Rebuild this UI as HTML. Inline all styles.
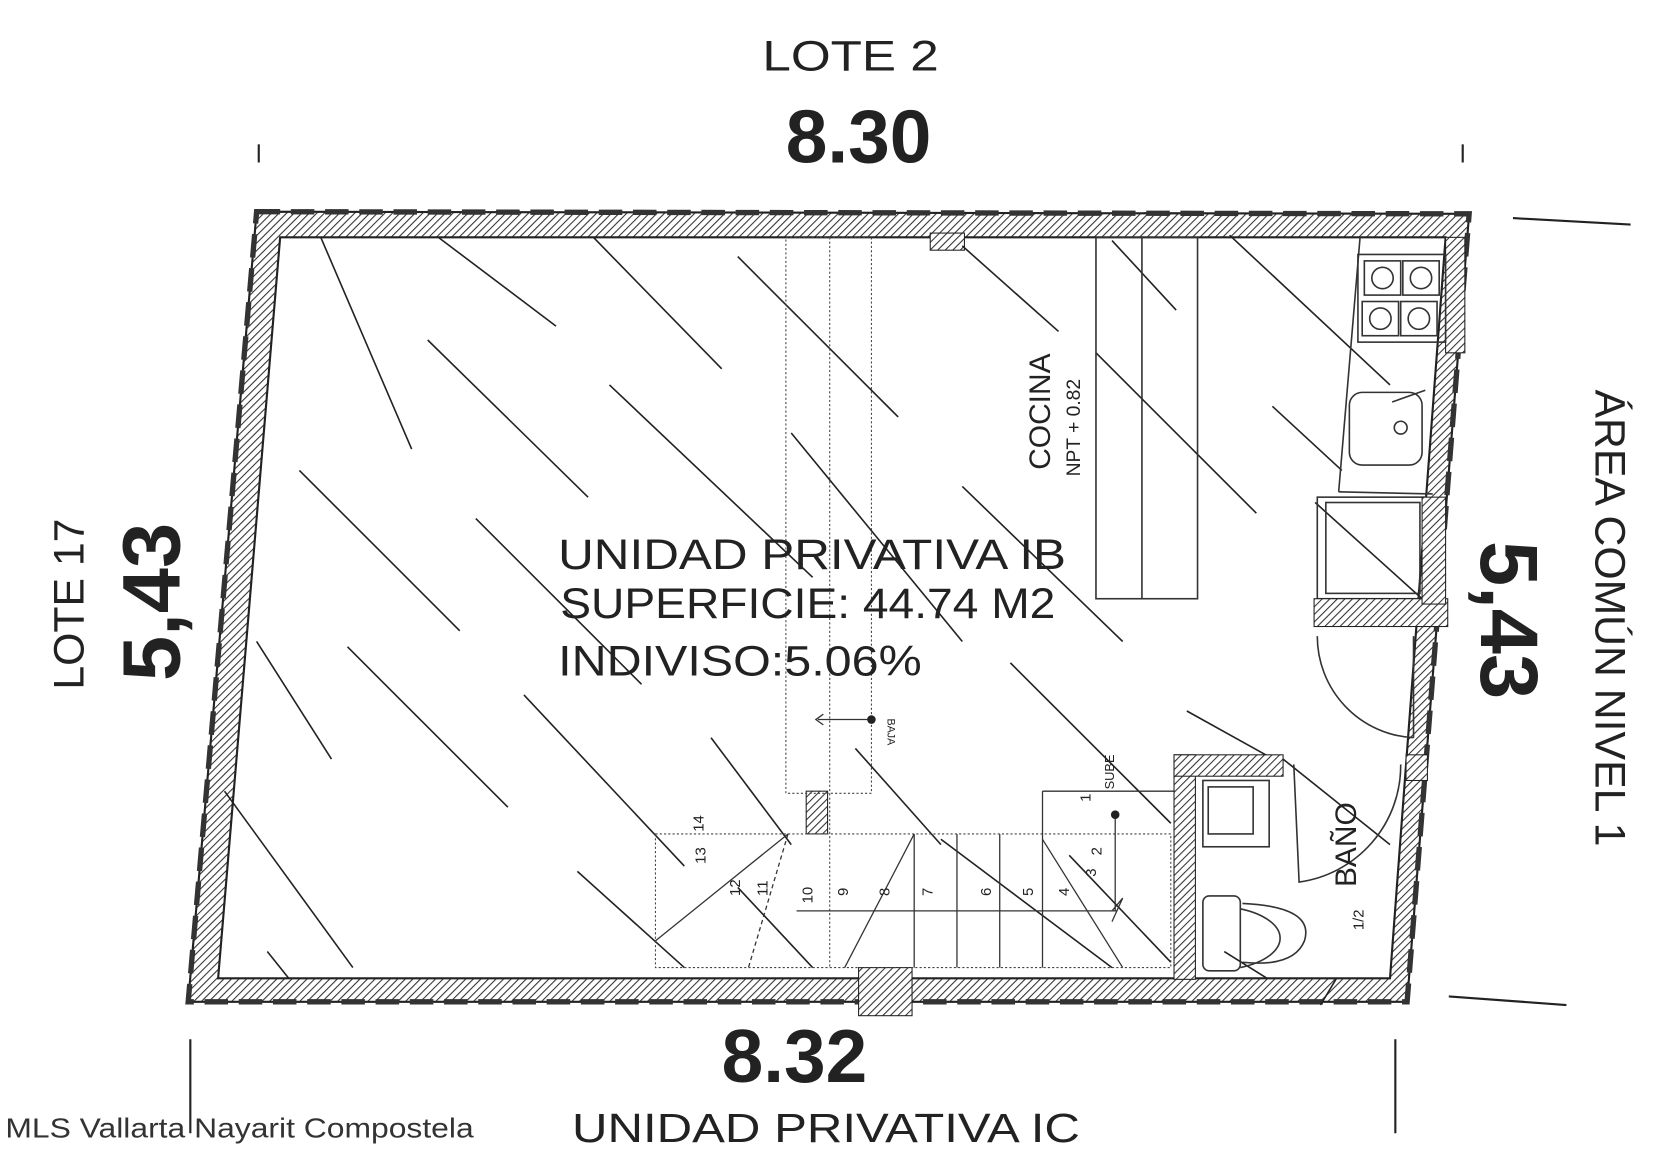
<!DOCTYPE html>
<html><head><meta charset="utf-8"><style>html,body{margin:0;padding:0;background:#fff}svg{display:block}</style></head>
<body>
<svg width="1668" height="1175" viewBox="0 0 1560 1099" preserveAspectRatio="none" xmlns="http://www.w3.org/2000/svg" font-family="Liberation Sans, sans-serif">
<defs>
<pattern id="h" width="5" height="5" patternUnits="userSpaceOnUse" patternTransform="rotate(45)">
<rect width="5" height="5" fill="#fff"/><line x1="0" y1="0" x2="0" y2="5" stroke="#333" stroke-width="2"/></pattern>
</defs>
<path d="M240,198 L1374,200 L1316,937 L176,937 Z M262,222 L204,915 L1300,915 L1352,222 Z" fill="url(#h)" fill-rule="evenodd" stroke="#222" stroke-width="2"/>
<path d="M240,198 L1374,200 L1316,937 L176,937 Z" fill="none" stroke="#333" stroke-width="5" stroke-dasharray="22,10"/>
<rect x="870" y="218" width="32" height="16" fill="url(#h)" stroke="#222"/>
<rect x="803" y="905" width="50" height="45" fill="url(#h)" stroke="#222"/>
<rect x="1352" y="222" width="18" height="108" fill="url(#h)" stroke="#222"/>
<rect x="754" y="740" width="20" height="40" fill="url(#h)" stroke="#222"/>
<g stroke="#222" stroke-width="1.5">
<line x1="300" y1="222" x2="385" y2="420"/><line x1="400" y1="318" x2="550" y2="465"/>
<line x1="410" y1="222" x2="520" y2="305"/><line x1="555" y1="222" x2="675" y2="345"/>
<line x1="690" y1="240" x2="840" y2="390"/><line x1="570" y1="360" x2="760" y2="540"/>
<line x1="740" y1="405" x2="900" y2="600"/><line x1="280" y1="440" x2="430" y2="590"/>
<line x1="445" y1="485" x2="600" y2="640"/><line x1="240" y1="600" x2="310" y2="710"/>
<line x1="325" y1="605" x2="475" y2="755"/><line x1="490" y1="650" x2="640" y2="810"/>
<line x1="665" y1="690" x2="740" y2="790"/><line x1="900" y1="455" x2="1050" y2="600"/>
<line x1="945" y1="620" x2="1095" y2="770"/><line x1="1110" y1="665" x2="1200" y2="715"/>
<line x1="1025" y1="330" x2="1175" y2="480"/><line x1="1190" y1="380" x2="1255" y2="440"/>
<line x1="1150" y1="220" x2="1300" y2="360"/><line x1="210" y1="740" x2="330" y2="905"/>
<line x1="540" y1="815" x2="640" y2="905"/><line x1="900" y1="230" x2="990" y2="310"/>
<line x1="1040" y1="225" x2="1100" y2="290"/><line x1="1230" y1="470" x2="1330" y2="560"/>
<line x1="690" y1="830" x2="760" y2="905"/><line x1="250" y1="890" x2="270" y2="915"/>
<line x1="800" y1="700" x2="880" y2="790"/><line x1="880" y1="785" x2="1040" y2="905"/>
<line x1="1000" y1="800" x2="1095" y2="900"/><line x1="1235" y1="940" x2="1250" y2="915"/>
<line x1="1145" y1="890" x2="1185" y2="915"/><line x1="1200" y1="710" x2="1300" y2="790"/>
</g>
<g stroke="#444" stroke-width="1" fill="none" stroke-dasharray="2,2">
<rect x="735" y="222" width="80" height="520"/>
<rect x="613" y="780" width="482" height="125"/>
<line x1="776" y1="222" x2="776" y2="905"/>
</g>
<g stroke="#333" stroke-width="1.2" fill="none">
<line x1="855" y1="780" x2="855" y2="905"/><line x1="895" y1="780" x2="895" y2="905"/>
<line x1="935" y1="780" x2="935" y2="905"/><line x1="975" y1="740" x2="975" y2="905"/>
<line x1="975" y1="740" x2="1098" y2="740"/>
<line x1="855" y1="780" x2="790" y2="905"/><line x1="975" y1="785" x2="1050" y2="905"/>
<line x1="737" y1="780" x2="613" y2="880"/><line x1="737" y1="780" x2="700" y2="905" stroke-dasharray="4,3"/>
<line x1="745" y1="852" x2="1045" y2="852"/><line x1="1043" y1="762" x2="1043" y2="852"/>
<path d="M1040,852 L1050,840 L1040,862"/>
<line x1="765" y1="673" x2="815" y2="673"/><path d="M770,668 L763,673 L770,678"/>
</g>
<circle cx="1043" cy="762" r="4" fill="#222"/><circle cx="815" cy="673" r="4" fill="#222"/>
<g stroke="#333" stroke-width="1.5" fill="none">
<rect x="1025" y="222" width="95" height="338"/><line x1="1068" y1="222" x2="1068" y2="560"/>
<path d="M1272,222 L1252,460"/><line x1="1252" y1="460" x2="1340" y2="462"/>
<rect x="1270" y="238" width="82" height="82"/>
<rect x="1276" y="244" width="34" height="32"/><rect x="1312" y="244" width="34" height="32"/>
<rect x="1274" y="282" width="34" height="32"/><rect x="1310" y="282" width="34" height="32"/>
<circle cx="1293" cy="260" r="10"/><circle cx="1329" cy="260" r="10"/><circle cx="1291" cy="298" r="10"/><circle cx="1327" cy="298" r="10"/>
<rect x="1262" y="367" width="68" height="68" rx="12"/><circle cx="1310" cy="400" r="6"/>
<line x1="1302" y1="376" x2="1333" y2="365"/>
<rect x="1232" y="465" width="100" height="95"/><rect x="1240" y="470" width="88" height="85"/>
<path d="M1232,595 A95,95 0 0 0 1322,690"/><line x1="1322" y1="595" x2="1322" y2="690"/>
<path d="M1210,715 L1215,825 A110,110 0 0 0 1310,715"/>
<rect x="1125" y="730" width="62" height="62"/><rect x="1130" y="736" width="42" height="44"/>
<rect x="1125" y="838" width="35" height="70" rx="6"/>
<path d="M1160,850 A62,30 0 0 1 1160,905"/>
<path d="M1162,845 Q1230,848 1220,880 Q1210,905 1162,900"/>
</g>
<rect x="1229" y="560" width="125" height="26" fill="url(#h)" stroke="#222"/>
<rect x="1330" y="465" width="22" height="100" fill="url(#h)" stroke="#222"/>
<rect x="1098" y="706" width="20" height="210" fill="url(#h)" stroke="#222"/>
<rect x="1098" y="706" width="102" height="20" fill="url(#h)" stroke="#222"/>
<rect x="1315" y="706" width="20" height="24" fill="url(#h)" stroke="#222"/>
<g stroke="#222" stroke-width="2">
<line x1="242" y1="135" x2="242" y2="152"/><line x1="1368" y1="135" x2="1368" y2="152"/>
<line x1="1415" y1="204" x2="1525" y2="210"/><line x1="1355" y1="932" x2="1465" y2="940"/>
<line x1="178" y1="972" x2="178" y2="1060"/><line x1="1305" y1="972" x2="1305" y2="1060"/>
</g>
<g fill="#222">
<text x="713" y="66" font-size="40" textLength="165" lengthAdjust="spacingAndGlyphs">LOTE  2</text>
<text x="803" y="152" font-size="70" font-weight="bold" text-anchor="middle">8.30</text>
<text x="743" y="1012" font-size="70" font-weight="bold" text-anchor="middle">8.32</text>
<text x="535" y="1068" font-size="38" textLength="475" lengthAdjust="spacingAndGlyphs">UNIDAD PRIVATIVA IC</text>
<text transform="translate(78,565) rotate(-90)" font-size="40" text-anchor="middle">LOTE 17</text>
<text transform="translate(168,563) rotate(-90)" font-size="76" font-weight="bold" text-anchor="middle">5,43</text>
<text transform="translate(1385,580) rotate(90)" font-size="76" font-weight="bold" text-anchor="middle">5,43</text>
<text transform="translate(1492,578) rotate(90)" font-size="40" text-anchor="middle">ÁREA COMÚN NIVEL 1</text>
<text x="522" y="532" font-size="40" textLength="475" lengthAdjust="spacingAndGlyphs">UNIDAD PRIVATIVA IB</text>
<text x="524" y="578" font-size="40" textLength="463" lengthAdjust="spacingAndGlyphs">SUPERFICIE: 44.74 M2</text>
<text x="522" y="632" font-size="40" textLength="340" lengthAdjust="spacingAndGlyphs">INDIVISO:5.06%</text>
<text transform="translate(982,385) rotate(-90)" font-size="28" text-anchor="middle">COCINA</text>
<text transform="translate(1010,400) rotate(-90)" font-size="18" text-anchor="middle">NPT + 0.82</text>
<text transform="translate(1268,790) rotate(-90)" font-size="28" text-anchor="middle">BAÑO</text>
<text transform="translate(830,672) rotate(90)" font-size="10">BAJA</text>
<text transform="translate(1042,722) rotate(-90)" font-size="12" text-anchor="middle">SUBE</text>
<text x="5" y="1064" font-size="26" fill="#333" textLength="438" lengthAdjust="spacingAndGlyphs">MLS Vallarta Nayarit Compostela</text>
</g>
<g fill="#222" font-size="14">
<text transform="translate(1020,750) rotate(-90)">1</text><text transform="translate(1030,800) rotate(-90)">2</text>
<text transform="translate(1025,820) rotate(-90)">3</text><text transform="translate(1000,838) rotate(-90)">4</text>
<text transform="translate(966,838) rotate(-90)">5</text><text transform="translate(927,838) rotate(-90)">6</text>
<text transform="translate(872,838) rotate(-90)">7</text><text transform="translate(832,838) rotate(-90)">8</text>
<text transform="translate(793,838) rotate(-90)">9</text><text transform="translate(760,845) rotate(-90)">10</text>
<text transform="translate(718,838) rotate(-90)">11</text><text transform="translate(692,838) rotate(-90)">12</text>
<text transform="translate(660,808) rotate(-90)">13</text><text transform="translate(658,778) rotate(-90)">14</text>
<text transform="translate(1275,870) rotate(-90)">1/2</text>
</g>
</svg>
</body></html>
